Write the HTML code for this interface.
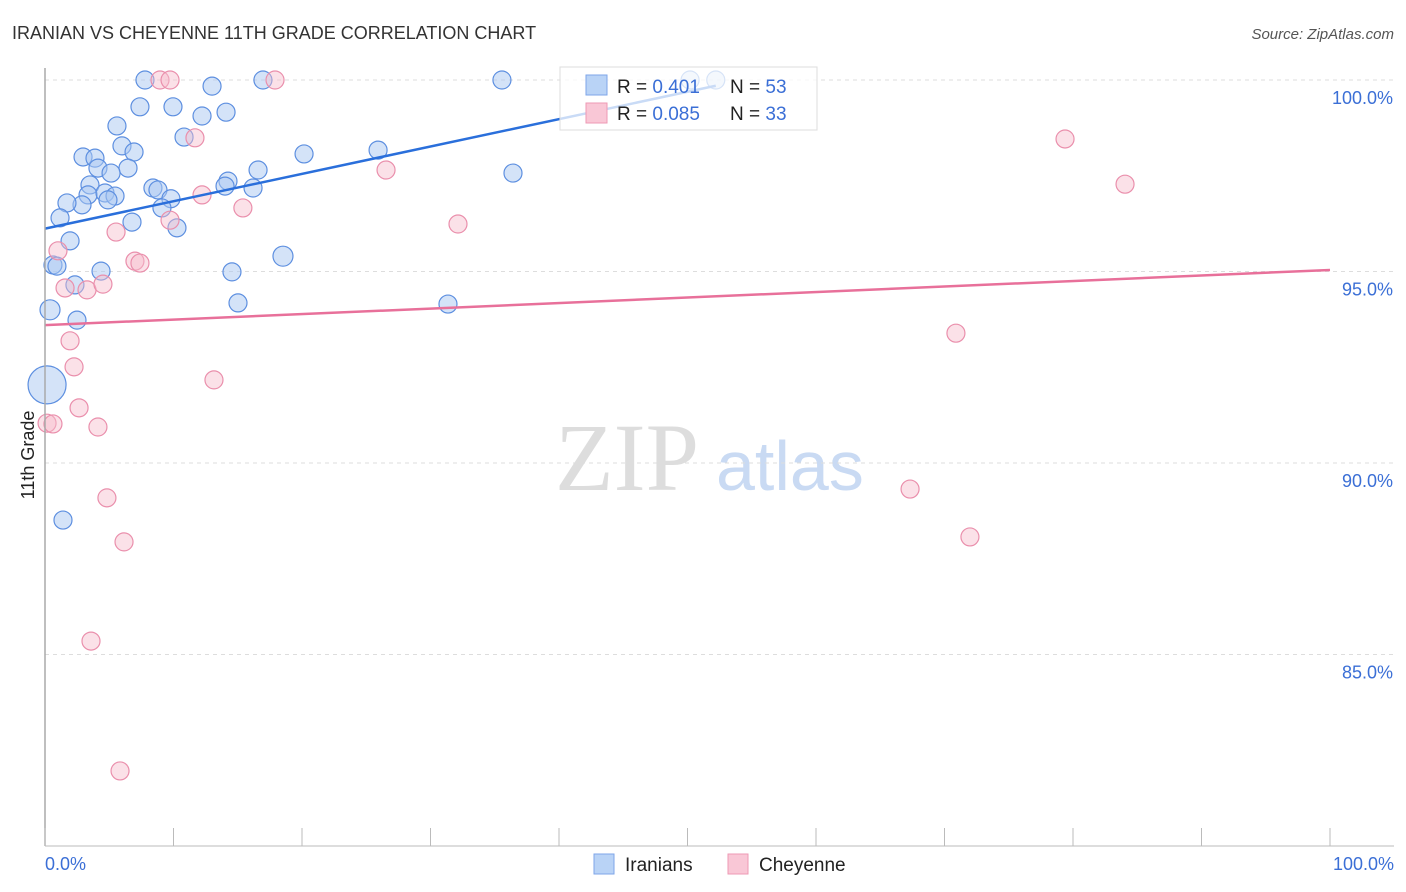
<!DOCTYPE html>
<html><head><meta charset="utf-8"><style>
body{margin:0;background:#fff;font-family:"Liberation Sans",sans-serif;}
#wrap{position:relative;width:1406px;height:892px;overflow:hidden;}
</style></head><body>
<div id="wrap">
<svg id="svg" width="1406" height="892" xmlns="http://www.w3.org/2000/svg">
<text x="12" y="39" font-size="18" fill="#333">IRANIAN VS CHEYENNE 11TH GRADE CORRELATION CHART</text>
<text x="1394" y="39" font-size="15" fill="#555" text-anchor="end" font-style="italic">Source: ZipAtlas.com</text>
<text x="555" y="490" font-size="96" fill="#ddd" font-family="Liberation Serif">ZIP</text>
<text x="716" y="490" font-size="70" fill="#c9daf3">atlas</text>
<text transform="translate(34,455) rotate(-90)" font-size="18" fill="#222" text-anchor="middle">11th Grade</text>
<g id="grid"></g><g id="pts"></g><g id="lines"></g>
<line x1="45" y1="68" x2="45" y2="846" stroke="#aaa" stroke-width="1.5"/>
<line x1="45" y1="846" x2="1394" y2="846" stroke="#bbb" stroke-width="1"/>
<g id="xt"></g>
<text x="45" y="870" font-size="18" fill="#3b6fd6">0.0%</text>
<text x="1394" y="870" font-size="18" fill="#3b6fd6" text-anchor="end">100.0%</text>
<g>
<rect x="560" y="67" width="257" height="63" fill="#fff" fill-opacity="0.75" stroke="#ddd"/>
<rect x="586" y="75" width="21" height="20" fill="#b9d3f6" stroke="#7ea6e8"/>
<rect x="586" y="103" width="21" height="20" fill="#f9c7d6" stroke="#ee9ab4"/>
<text x="617" y="93" font-size="19" fill="#222">R = <tspan fill="#3b6fd6">0.401</tspan></text>
<text x="730" y="93" font-size="19" fill="#222">N = <tspan fill="#3b6fd6">53</tspan></text>
<text x="617" y="120" font-size="19" fill="#222">R = <tspan fill="#3b6fd6">0.085</tspan></text>
<text x="730" y="120" font-size="19" fill="#222">N = <tspan fill="#3b6fd6">33</tspan></text>
</g>
<g><rect x="594" y="854" width="20" height="20" fill="#b9d3f6" stroke="#7ea6e8"/><text x="625" y="871" font-size="19" fill="#222">Iranians</text></g>
<g><rect x="728" y="854" width="20" height="20" fill="#f9c7d6" stroke="#ee9ab4"/><text x="759" y="871" font-size="19" fill="#222">Cheyenne</text></g>
</svg></div>
<script>
const yTicks=[100,95,90,85];
const yTickLabels=["100.0%","95.0%","90.0%","85.0%"];
const iranX=[7.78,13,16.96,35.56,50.2,52.2,7.39,9.96,12.22,14.09,5.6,10.82,5.99,6.93,2.96,3.89,4.12,6.46,5.14,16.58,20.16,25.92,36.42,3.5,3.35,4.67,5.45,4.9,8.4,8.79,9.8,2.88,1.71,9.1,14.24,14.01,16.19,1.17,6.77,10.27,1.95,0.62,0.93,4.36,14.55,18.52,2.33,0.39,2.49,15.02,31.36,0.16,1.4];
const iranY=[100,99.84,100,100,100,100,99.3,99.3,99.06,99.16,98.8,98.51,98.28,98.12,97.99,97.96,97.7,97.7,97.57,97.65,98.07,98.17,97.57,97.26,97,97.05,96.97,96.87,97.18,97.13,96.9,96.74,96.79,96.66,97.36,97.23,97.18,96.4,96.29,96.14,95.8,95.17,95.14,95.01,94.99,95.4,94.65,94,93.73,94.18,94.15,92.04,88.51];
const cheyX=[8.95,9.73,17.9,11.67,26.54,12.22,15.4,9.73,5.53,32.14,1.01,7,7.39,1.56,3.27,4.51,1.95,2.26,13.15,2.65,0.16,0.62,4.12,4.82,6.15,3.58,5.84,79.38,84.05,70.89,67.32,71.98];
const cheyY=[100,100,100,98.49,97.65,97,96.66,96.34,96.03,96.24,95.54,95.27,95.22,94.57,94.52,94.67,93.19,92.51,92.17,91.44,91.04,91.02,90.94,89.09,87.94,85.35,81.96,98.46,97.28,93.39,89.32,88.07];
const iranTrend=[[0,96.12],[52.2,99.85]];
const cheyTrend=[[0,93.6],[100,95.04]];
const X=v=>45+v*12.85, Y=v=>80+(100-v)*38.3;
const NS="http://www.w3.org/2000/svg";
function mk(t,a,p){const e=document.createElementNS(NS,t);for(const k in a)e.setAttribute(k,a[k]);p.appendChild(e);return e;}
const grid=document.getElementById('grid');
yTicks.forEach((t,i)=>{
 const l=mk('line',{x1:45,x2:1394,y1:Y(t),y2:Y(t),stroke:'#ddd','stroke-dasharray':'4,4'},grid);
 
 
 const tx=mk('text',{x:1393,y:Y(t)+24,'font-size':18,fill:'#3b6fd6','text-anchor':'end'},grid);
 tx.textContent=yTickLabels[i];
 
 
});
const xt=document.getElementById('xt');
for(let i=0;i<=10;i++){const l=mk('line',{x1:X(i*10),x2:X(i*10),y1:828,y2:846,stroke:'#bbb'},xt);
 
 }
const pts=document.getElementById('pts');
iranX.forEach((x,i)=>{const r=(i==51)?19:((i==45||i==47)?10:9);
 const c=mk('circle',{cx:X(x),cy:Y(iranY[i]),r:r,fill:'#a9c8f2','fill-opacity':0.5,stroke:'#5d8fe0','stroke-width':1.2},pts);
 
 });
cheyX.forEach((x,i)=>{const c=mk('circle',{cx:X(x),cy:Y(cheyY[i]),r:9,fill:'#f7bccd','fill-opacity':0.45,stroke:'#ea8fac','stroke-width':1.2},pts);
 
 });
const lines=document.getElementById('lines');
const l1=mk('line',{x1:X(iranTrend[0][0]),y1:Y(iranTrend[0][1]),x2:X(iranTrend[1][0]),y2:Y(iranTrend[1][1]),stroke:'#2a6fdb','stroke-width':2.5},lines);


const l2=mk('line',{x1:X(cheyTrend[0][0]),y1:Y(cheyTrend[0][1]),x2:X(cheyTrend[1][0]),y2:Y(cheyTrend[1][1]),stroke:'#e8709a','stroke-width':2.5},lines);


</script>
</body></html>
